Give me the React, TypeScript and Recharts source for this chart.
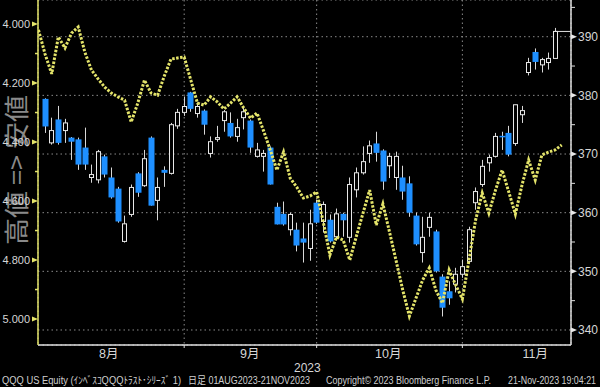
import React from 'react';
import { ComposedChart, Line, Bar, XAxis, YAxis, CartesianGrid, ReferenceLine } from 'recharts';

// US 10Y yield (left axis, inverted), index -1 .. 78
const yields = [
  4.020, 4.102, 4.169, 4.044, 4.081, 4.031, 4.010, 4.095, 4.156, 4.186,
  4.214, 4.234, 4.247, 4.258, 4.332, 4.268, 4.190, 4.234, 4.241, 4.176,
  4.119, 4.115, 4.112, 4.190, 4.268, 4.275, 4.247, 4.264, 4.288, 4.268,
  4.247, 4.285, 4.319, 4.302, 4.363, 4.427, 4.495, 4.434, 4.522, 4.553,
  4.590, 4.583, 4.569, 4.671, 4.783, 4.722, 4.732, 4.800, 4.719, 4.641,
  4.563, 4.681, 4.610, 4.705, 4.803, 4.902, 4.990, 4.929, 4.868, 4.827,
  4.902, 4.946, 4.834, 4.885, 4.932, 4.800, 4.664, 4.573, 4.641, 4.563,
  4.495, 4.569, 4.644, 4.546, 4.461, 4.529, 4.444, 4.434, 4.427, 4.410,
];

// QQQ daily candles, index 0 .. 77
const opens = [
  379.4, 371.9, 375.9, 374.0, 372.8, 372.5, 371.1, 366.0, 365.6, 369.6,
  366.0, 364.1, 355.1, 359.7, 366.7, 364.6, 372.8, 362.1, 367.3, 366.7,
  374.8, 377.1, 380.5, 376.9, 377.4, 370.1, 372.5, 375.7, 375.3, 373.0,
  376.2, 375.7, 369.6, 369.6, 371.1, 361.0, 359.8, 357.1, 357.1, 355.6,
  353.9, 361.7, 358.5, 358.8, 355.9, 359.8, 355.8, 363.9, 366.8, 370.1,
  371.8, 370.6, 368.0, 366.0, 366.0, 365.0, 359.5, 353.2, 357.5, 356.8,
  349.1, 346.6, 347.8, 349.5, 351.7, 361.7, 364.8, 368.5, 369.6, 373.1,
  373.6, 371.8, 376.7, 383.9, 387.4, 385.2, 385.6, 386.3,
];
const highs = [
  379.5, 376.2, 378.2, 376.0, 372.9, 372.8, 374.5, 368.2, 370.7, 369.9,
  367.7, 364.4, 359.5, 364.8, 366.9, 370.7, 373.0, 366.0, 367.9, 375.3,
  377.7, 379.8, 380.6, 378.8, 377.6, 373.0, 374.8, 377.5, 377.1, 376.0,
  377.9, 375.9, 371.9, 370.7, 371.3, 361.7, 361.9, 360.0, 358.3, 358.3,
  360.5, 362.2, 361.9, 359.7, 360.7, 360.0, 366.0, 367.7, 371.3, 372.3,
  373.8, 370.8, 370.2, 370.4, 368.0, 366.2, 360.0, 359.3, 360.0, 357.1,
  349.5, 348.3, 350.6, 352.0, 357.6, 364.3, 369.0, 369.9, 373.6, 373.8,
  374.8, 378.4, 378.2, 386.4, 388.0, 386.4, 387.3, 391.5,
];
const lows = [
  373.6, 371.6, 371.6, 371.9, 369.0, 367.3, 367.3, 365.1, 365.0, 366.0,
  362.4, 358.3, 354.9, 359.3, 362.7, 364.4, 361.2, 358.7, 364.4, 366.5,
  374.3, 376.5, 377.2, 376.2, 373.3, 369.4, 372.1, 373.8, 372.8, 372.1,
  374.2, 370.2, 369.4, 367.0, 364.8, 358.0, 357.8, 356.1, 353.4, 351.5,
  351.8, 358.1, 356.6, 354.9, 355.4, 355.9, 354.9, 362.6, 366.5, 368.5,
  368.7, 363.9, 365.9, 363.9, 362.2, 359.3, 354.4, 351.5, 355.9, 349.8,
  342.3, 344.3, 346.4, 348.9, 351.5, 360.5, 364.4, 367.0, 369.4, 370.7,
  369.6, 371.4, 375.3, 383.4, 384.4, 383.9, 384.4, 386.3,
];
const closes = [
  374.7, 374.0, 371.9, 375.3, 372.1, 368.2, 368.2, 366.5, 370.4, 366.5,
  362.6, 358.5, 358.1, 364.3, 363.4, 369.2, 361.2, 364.3, 366.8, 375.0,
  377.1, 378.1, 377.7, 378.1, 375.0, 372.1, 372.8, 377.2, 373.0, 374.5,
  377.2, 371.1, 370.7, 370.1, 364.8, 358.0, 358.0, 359.7, 354.4, 354.9,
  358.1, 358.3, 361.4, 355.1, 359.8, 358.7, 364.8, 366.8, 368.7, 371.4,
  370.2, 365.3, 369.6, 369.6, 363.6, 360.0, 354.6, 355.8, 359.2, 350.0,
  343.8, 345.4, 349.5, 350.8, 357.1, 363.6, 367.9, 369.4, 373.0, 372.9,
  369.9, 378.4, 377.4, 385.6, 385.7, 386.1, 386.3, 390.9,
];

// axes
const xDomain = [-1.07, 79.4];
const monthBoundaries = [21, 41, 63];
const monthPositions = [9.6, 30.9, 51.8, 74.0];
const monthLabels = ['8月', '9月', '10月', '11月'];
const yearPosition = 39.6;
const yearLabel = '2023';

const leftDomain = [3.9186, 5.088];
const leftTicks = [4.0, 4.1, 4.2, 4.3, 4.4, 4.5, 4.6, 4.7, 4.8, 4.9, 5.0];
const rightDomain = [337.44, 396.26];
const rightTicks = [340, 345, 350, 355, 360, 365, 370, 375, 380, 385, 390, 395];
const gridTicks = [340, 350, 360, 370, 380, 390];

const sideLabel = '高値 => 安値';
const footer = [
  { text: 'QQQ US Equity (ｲﾝﾍﾞｽｺQQQﾄﾗｽﾄ･ｼﾘｰｽﾞ 1)', x: 2, len: 179 },
  { text: '日足 01AUG2023-21NOV2023', x: 188, len: 122 },
  { text: 'Copyright© 2023 Bloomberg Finance L.P.', x: 326, len: 165 },
  { text: '21-Nov-2023 19:04:21', x: 508, len: 88 },
];

const data = yields.map((yl, k) => {
  const i = k - 1;
  const has = i >= 0 && i < opens.length;
  return {
    i,
    yld: yl,
    open: has ? opens[i] : undefined,
    high: has ? highs[i] : undefined,
    low: has ? lows[i] : undefined,
    close: has ? closes[i] : undefined,
  };
});

const xTicks = [...monthBoundaries, ...monthPositions, yearPosition].sort((a, b) => a - b);

const FONT = "'Liberation Sans', 'Noto Sans CJK JP', sans-serif";
const YELLOW = '#e4e46a';
const BLUE = '#1e8fff';

const Candle = (props: any) => {
  const { x, y, width, height, payload } = props;
  if (!payload || payload.open == null || !isFinite(y) || !isFinite(height)) return <g />;
  const { open, close, high, low } = payload;
  const range = high - low;
  const k = range > 0 ? height / range : 0;
  const py = (p: number) => y + (high - p) * k;
  const cx = Math.round(x + width / 2) + 0.5;
  const up = close >= open;
  const top = py(Math.max(open, close));
  const bot = py(Math.min(open, close));
  const bh = Math.max(1.5, bot - top);
  return (
    <g>
      <line x1={cx} x2={cx} y1={y} y2={y + height} stroke="#d8d8d8" strokeWidth={1} />
      {up ? (
        <rect x={cx - 2} y={top} width={4} height={bh} fill="#000" stroke="#e8e8e8" strokeWidth={1} />
      ) : (
        <rect x={cx - 3} y={top} width={6} height={bh} fill={BLUE} />
      )}
    </g>
  );
};

const LeftTick = (props: any) => {
  const { x, y, payload } = props;
  const v = payload.value;
  const major = Math.round(v * 10) % 2 === 0;
  if (!major) {
    return <line x1={x - 3} x2={x} y1={y} y2={y} stroke={YELLOW} strokeWidth={1.5} />;
  }
  return (
    <g>
      <polygon points={`${x - 6},${y - 2.5} ${x},${y} ${x - 6},${y + 2.5}`} fill={YELLOW} />
      <text x={x - 8} y={y} dy="0.36em" textAnchor="end" fill="#d6d6d6" fontSize={11} fontFamily={FONT}>
        {v.toFixed(3)}
      </text>
    </g>
  );
};

const RightTick = (props: any) => {
  const { x, y, payload } = props;
  const v = payload.value;
  const major = v % 10 === 0;
  if (!major) {
    return <line x1={x} x2={x + 4} y1={y} y2={y} stroke="#e0e0e0" strokeWidth={1} />;
  }
  return (
    <g>
      <polygon points={`${x},${y - 2.5} ${x + 6},${y} ${x},${y + 2.5}`} fill="#e8e8e8" />
      <text x={x + 7} y={y} dy="0.36em" textAnchor="start" fill="#d6d6d6" fontSize={12} fontFamily={FONT}>
        {v}
      </text>
    </g>
  );
};

const BottomTick = (props: any) => {
  const { x, y, payload } = props;
  const v = payload.value;
  const bi = monthBoundaries.indexOf(v);
  if (bi >= 0) {
    return <line x1={x} x2={x} y1={y} y2={y + 3} stroke="#e0e0e0" strokeWidth={1} />;
  }
  const mi = monthPositions.indexOf(v);
  if (mi >= 0) {
    return (
      <text x={x} y={y + 13} textAnchor="middle" fill="#d6d6d6" fontSize={12.5} fontFamily={FONT}>
        {monthLabels[mi]}
      </text>
    );
  }
  if (v === yearPosition) {
    return (
      <text x={x} y={y + 27} textAnchor="middle" fill="#d6d6d6" fontSize={12} fontFamily={FONT}>
        {yearLabel}
      </text>
    );
  }
  return <g />;
};

export default function App() {
  const lastIdx = opens.length - 1;
  return (
    <div style={{ position: 'fixed', left: 0, top: 0, width: 600, height: 387, background: '#000', overflow: 'hidden' }}>
      <svg width={600} height={387} style={{ position: 'absolute', left: 0, top: 0 }}>
        <text
          x={15}
          y={170}
          transform="rotate(-90 15 170)"
          textAnchor="middle"
          dominantBaseline="central"
          fill="#8a8a8a"
          fontSize={25}
          fontFamily="'Noto Sans CJK JP', sans-serif"
          textLength={150}
          lengthAdjust="spacingAndGlyphs"
        >
          {sideLabel}
        </text>
        {footer.map((f) => (
          <text
            key={f.text}
            x={f.x}
            y={384}
            fill="#cfcfcf"
            fontSize={10}
            fontFamily={FONT}
            textLength={f.len}
            lengthAdjust="spacingAndGlyphs"
          >
            {f.text}
          </text>
        ))}
      </svg>
      <div style={{ position: 'absolute', left: 0, top: 0 }}>
        <ComposedChart width={600} height={387} data={data} margin={{ top: 0, right: 0, bottom: 0, left: 0 }}>
          <XAxis
            xAxisId="main"
            type="number"
            dataKey="i"
            domain={xDomain}
            allowDataOverflow
            ticks={xTicks}
            interval={0}
            height={42}
            tickSize={0}
            tickMargin={0}
            tickLine={false}
            axisLine={{ stroke: '#e0e0e0', strokeWidth: 1.5 }}
            tick={<BottomTick />}
          />
          <XAxis xAxisId="grid" type="number" dataKey="i" domain={xDomain} allowDataOverflow ticks={monthBoundaries} hide height={0} />
          <YAxis
            yAxisId="left"
            orientation="left"
            width={38}
            domain={leftDomain}
            reversed
            allowDataOverflow
            ticks={leftTicks}
            interval={0}
            tickSize={0}
            tickMargin={0}
            tickLine={false}
            axisLine={{ stroke: YELLOW, strokeWidth: 1.5 }}
            tick={<LeftTick />}
          />
          <YAxis
            yAxisId="right"
            orientation="right"
            width={29}
            domain={rightDomain}
            allowDataOverflow
            ticks={rightTicks}
            interval={0}
            tickSize={0}
            tickMargin={0}
            tickLine={false}
            axisLine={{ stroke: '#e0e0e0', strokeWidth: 1.5 }}
            tick={<RightTick />}
          />
          <YAxis yAxisId="grid" orientation="right" hide width={0} domain={rightDomain} allowDataOverflow ticks={gridTicks} />
          <CartesianGrid xAxisId="grid" yAxisId="grid" stroke="#8a8a8a" strokeDasharray="1.5 3" strokeWidth={1} />
          <Bar
            xAxisId="main"
            yAxisId="right"
            dataKey={(d: any) => (d.open != null ? [d.low, d.high] : null)}
            barSize={6}
            shape={<Candle />}
            isAnimationActive={false}
          />
          <Line
            xAxisId="main"
            yAxisId="left"
            type="linear"
            dataKey="yld"
            stroke={YELLOW}
            strokeWidth={3}
            strokeDasharray="2.5 1.5"
            dot={false}
            activeDot={false}
            isAnimationActive={false}
          />
          <ReferenceLine
            xAxisId="main"
            yAxisId="right"
            segment={[
              { x: lastIdx, y: closes[lastIdx] },
              { x: xDomain[1], y: closes[lastIdx] },
            ]}
            stroke="#e0e0e0"
            strokeWidth={1}
            ifOverflow="visible"
          />
        </ComposedChart>
      </div>
    </div>
  );
}
